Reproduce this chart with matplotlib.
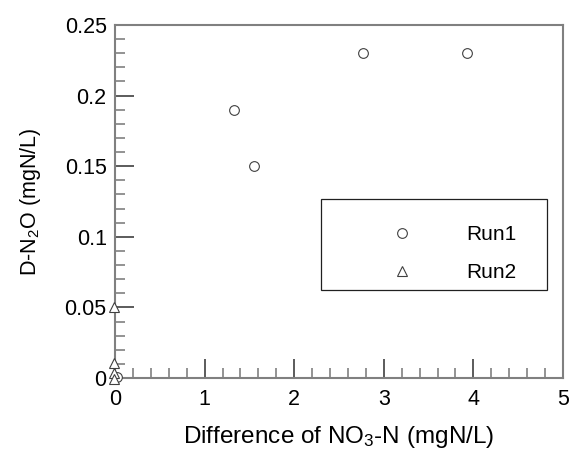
import matplotlib
matplotlib.use("Agg")
import matplotlib.pyplot as plt
from matplotlib.patches import Rectangle
from matplotlib.ticker import MultipleLocator

plt.rcParams["font.family"] = ["Liberation Sans", "DejaVu Sans"]
plt.rcParams["mathtext.fontset"] = "custom"
plt.rcParams["mathtext.rm"] = "Liberation Sans"
plt.rcParams["mathtext.it"] = "Liberation Sans"

# DATA
run1_x = [1.33, 1.55, 2.77, 3.93, 0.02]
run1_y = [0.19, 0.15, 0.23, 0.23, 0.001]
run2_x = [-0.01, -0.01, -0.01, -0.01]
run2_y = [0.05, 0.0107, 0.0035, -0.001]

x_ticks = [0, 1, 2, 3, 4, 5]
y_ticks = [0, 0.05, 0.1, 0.15, 0.2, 0.25]
y_tick_labels = ["0", "0.05", "0.1", "0.15", "0.2", "0.25"]

GRAY = "#808080"
DARK = "#404040"

fig = plt.figure(figsize=(5.74, 4.5), dpi=100)
ax = fig.add_axes([115 / 574, 1 - 378 / 450, 448 / 574, 353 / 450])

ax.plot(run1_x, run1_y, linestyle="none", marker="o", markersize=7,
        markerfacecolor="white", markeredgecolor=DARK, markeredgewidth=0.8,
        label="Run1", clip_on=False, zorder=5)
ax.plot(run2_x, run2_y, linestyle="none", marker="^", markersize=7.5,
        markerfacecolor="white", markeredgecolor=DARK, markeredgewidth=0.8,
        label="Run2", clip_on=False, zorder=5)

ax.set_xlim(0, 5)
ax.set_ylim(0, 0.25)
ax.set_xticks(x_ticks)
ax.set_yticks(y_ticks)
ax.set_yticklabels(y_tick_labels)
ax.xaxis.set_minor_locator(MultipleLocator(0.2))
ax.yaxis.set_minor_locator(MultipleLocator(0.01))

for sp in ax.spines.values():
    sp.set_color(GRAY)
    sp.set_linewidth(1.5)

ax.tick_params(which="both", direction="in", top=False, right=False,
               labelsize=15.5, pad=6)
ax.tick_params(which="major", length=14, width=1.2, color=DARK)
ax.tick_params(which="minor", length=7, width=1.2, color=GRAY)
ax.tick_params(axis="x", pad=8)

ax.set_xlabel("Difference of NO$_3$-N (mgN/L)", fontsize=17.5, labelpad=10)
ax.set_ylabel("D-N$_2$O (mgN/L)", fontsize=15.5)
ax.yaxis.set_label_coords(-0.161, 0.5)

# legend box drawn separately so the rows can sit where they do in the original
ax.add_patch(Rectangle((0.46, 0.249), 0.504, 0.258, transform=ax.transAxes,
                       facecolor="white", edgecolor="#202020", linewidth=0.9,
                       zorder=4))
ax.legend(loc="center left", bbox_to_anchor=(0.547, 0.352), frameon=False,
          fontsize=15, borderpad=0, labelspacing=0.9, handlelength=4,
          handletextpad=1.1, borderaxespad=0).set_zorder(6)

fig.savefig("out.png", dpi=100)
